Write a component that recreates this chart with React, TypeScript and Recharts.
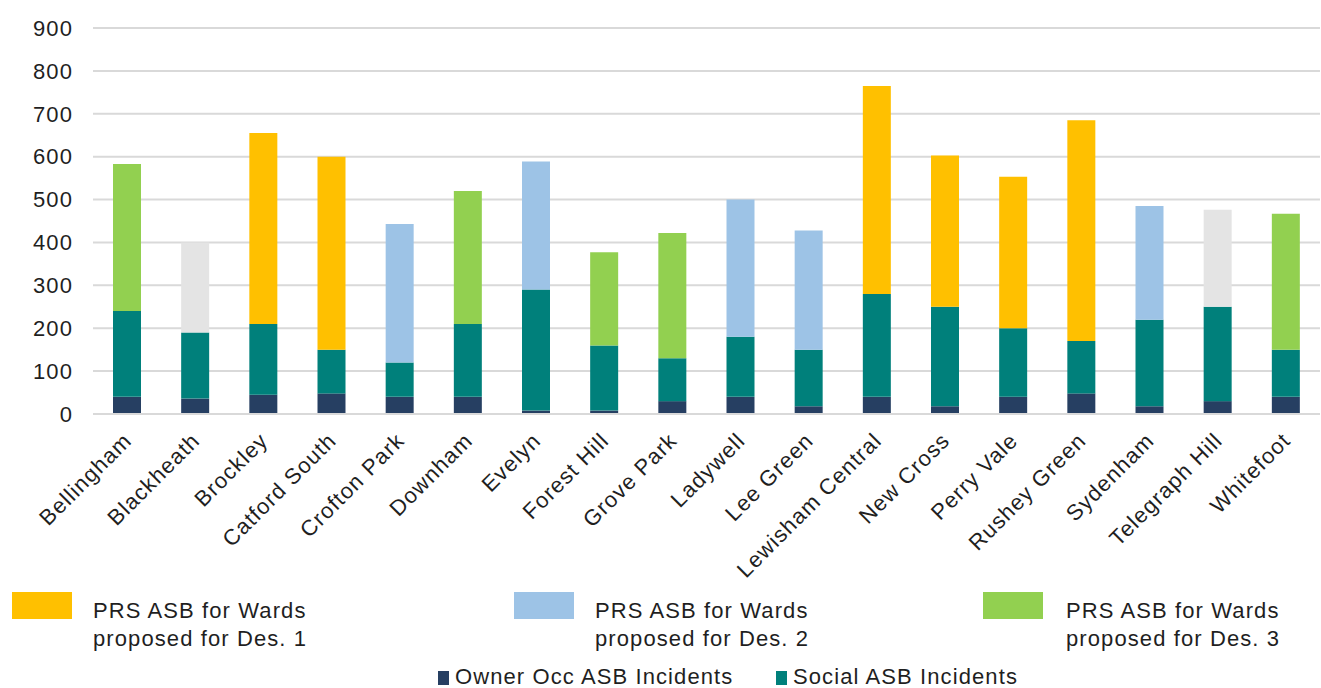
import { Bar, BarChart, CartesianGrid, XAxis, YAxis } from 'recharts';

const wards = [
  'Bellingham', 'Blackheath', 'Brockley', 'Catford South', 'Crofton Park', 'Downham',
  'Evelyn', 'Forest Hill', 'Grove Park', 'Ladywell', 'Lee Green', 'Lewisham Central',
  'New Cross', 'Perry Vale', 'Rushey Green', 'Sydenham', 'Telegraph Hill', 'Whitefoot',
];

const ownerOcc = [40, 36, 45, 48, 40, 40, 8, 8, 30, 40, 18, 40, 18, 40, 48, 18, 30, 40];
const social = [200, 154, 165, 102, 80, 170, 282, 152, 100, 140, 132, 240, 232, 160, 122, 202, 220, 110];
const prsDes1 = [0, 0, 445, 450, 0, 0, 0, 0, 0, 0, 0, 485, 353, 353, 515, 0, 0, 0];
const prsDes2 = [0, 0, 0, 0, 323, 0, 299, 0, 0, 320, 278, 0, 0, 0, 0, 265, 0, 0];
const prsDes3 = [343, 0, 0, 0, 0, 310, 0, 217, 292, 0, 0, 0, 0, 0, 0, 0, 0, 317];
const prsOther = [0, 210, 0, 0, 0, 0, 0, 0, 0, 0, 0, 0, 0, 0, 0, 0, 226, 0];

const yTicks = [0, 100, 200, 300, 400, 500, 600, 700, 800, 900];

const data = wards.map((ward, i) => ({
  ward,
  owner: ownerOcc[i],
  social: social[i],
  des1: prsDes1[i],
  des2: prsDes2[i],
  des3: prsDes3[i],
  other: prsOther[i],
}));

const FONT = '"Liberation Sans", Arial, sans-serif';
const TEXT = '#1f1f1f';
const SPACING = 1.1;

const C = {
  owner: '#263f62',
  social: '#00807b',
  des1: '#ffc000',
  des2: '#9dc3e6',
  des3: '#92d050',
  other: '#e4e4e4',
};

function WardTick({ x, y, payload }: any) {
  const ax = x + 6;
  const ay = y + 20;
  return (
    <text
      x={ax}
      y={ay}
      transform={`rotate(-45 ${ax} ${ay})`}
      textAnchor="end"
      fontFamily={FONT}
      fontSize={22}
      fill={TEXT}
      letterSpacing={SPACING}
    >
      {payload.value}
    </text>
  );
}

function BigKey({ left, textLeft, color, label }: { left: number; textLeft: number; color: string; label: string }) {
  return (
    <>
      <div style={{ position: 'absolute', left, top: 592, width: 60, height: 27, background: color }} />
      <div
        style={{
          position: 'absolute',
          left: textLeft,
          top: 597,
          fontSize: 22,
          lineHeight: '28px',
          letterSpacing: SPACING,
          color: TEXT,
          whiteSpace: 'nowrap',
        }}
      >
        PRS ASB for Wards
        <br />
        {label}
      </div>
    </>
  );
}

function SmallKey({ left, color, label }: { left: number; color: string; label: string }) {
  return (
    <>
      <div style={{ position: 'absolute', left, top: 671, width: 11, height: 14, background: color }} />
      <div
        style={{
          position: 'absolute',
          left: left + 17,
          top: 666,
          fontSize: 22,
          lineHeight: '22px',
          letterSpacing: SPACING,
          color: TEXT,
          whiteSpace: 'nowrap',
        }}
      >
        {label}
      </div>
    </>
  );
}

export default function App() {
  return (
    <div
      style={{
        position: 'absolute',
        left: 0,
        top: 0,
        width: 1321,
        height: 688,
        background: '#fff',
        fontFamily: FONT,
        overflow: 'hidden',
      }}
    >
      <BarChart
        width={1321}
        height={590}
        data={data}
        margin={{ top: 28, right: 1, bottom: 0, left: 0 }}
        barSize={28}
      >
        <CartesianGrid vertical={false} stroke="#d9d9d9" strokeWidth={2} />
        <XAxis
          dataKey="ward"
          interval={0}
          height={176}
          axisLine={{ stroke: '#d9d9d9', strokeWidth: 2 }}
          tickLine={false}
          tick={<WardTick />}
        />
        <YAxis
          width={93}
          domain={[0, 900]}
          ticks={yTicks}
          axisLine={false}
          tickLine={false}
          tickMargin={14}
          tick={{ fontFamily: FONT, fontSize: 22, fill: TEXT, letterSpacing: SPACING }}
        />
        <Bar dataKey="owner" stackId="a" fill={C.owner} isAnimationActive={false} />
        <Bar dataKey="social" stackId="a" fill={C.social} isAnimationActive={false} />
        <Bar dataKey="des1" stackId="a" fill={C.des1} isAnimationActive={false} />
        <Bar dataKey="des2" stackId="a" fill={C.des2} isAnimationActive={false} />
        <Bar dataKey="des3" stackId="a" fill={C.des3} isAnimationActive={false} />
        <Bar dataKey="other" stackId="a" fill={C.other} isAnimationActive={false} />
      </BarChart>
      <BigKey left={12} textLeft={93} color={C.des1} label="proposed for Des. 1" />
      <BigKey left={514} textLeft={595} color={C.des2} label="proposed for Des. 2" />
      <BigKey left={983} textLeft={1066} color={C.des3} label="proposed for Des. 3" />
      <SmallKey left={438} color={C.owner} label="Owner Occ ASB Incidents" />
      <SmallKey left={776} color={C.social} label="Social ASB Incidents" />
    </div>
  );
}
